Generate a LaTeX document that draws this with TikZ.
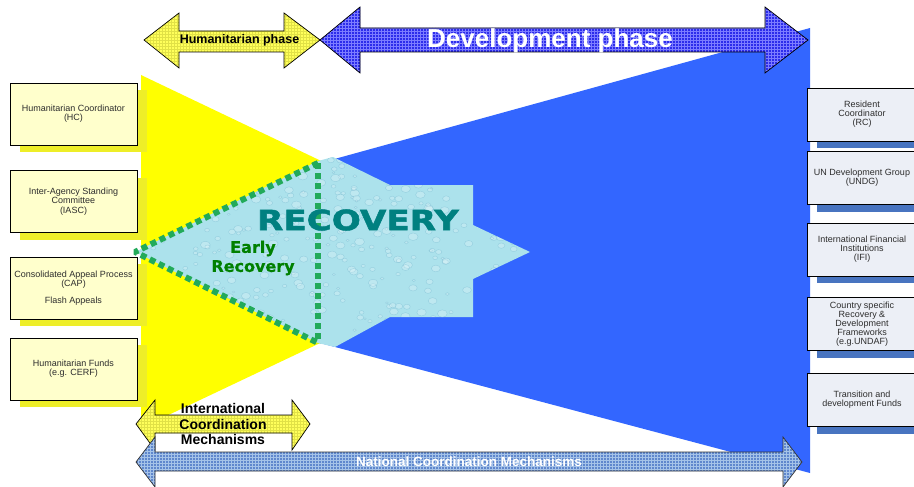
\documentclass[tikz,border=0pt]{standalone}
\usepackage{fontspec}
\setmainfont{Liberation Sans}
\newfontfamily\verafont[FakeBold=0.6]{DejaVu Sans}
\newfontfamily\heavyfont[FakeBold=1.6]{DejaVu Sans Bold}
\usetikzlibrary{patterns,shadows}

\definecolor{funnelyellow}{RGB}{255,255,0}
\definecolor{funnelblue}{RGB}{51,102,255}
\definecolor{recfill}{RGB}{172,226,236}
\definecolor{recdrop}{RGB}{110,180,205}
\definecolor{dotgreen}{RGB}{34,170,90}
\definecolor{recteal}{RGB}{0,128,128}
\definecolor{ergreen}{RGB}{0,128,0}
\definecolor{hboxfill}{RGB}{255,255,204}
\definecolor{hshadow}{RGB}{238,238,40}
\definecolor{dboxfill}{RGB}{236,239,246}
\definecolor{dshadow}{RGB}{72,116,192}
\definecolor{boxtext}{RGB}{45,45,45}
\definecolor{harrfill}{RGB}{255,255,90}
\definecolor{harrgrid}{RGB}{225,225,70}
\definecolor{darrfill}{RGB}{45,45,235}
\definecolor{darrgrid}{RGB}{125,125,255}
\definecolor{narrfill}{RGB}{95,135,205}
\definecolor{narrgrid}{RGB}{165,195,232}

\tikzset{
  hbox/.style={draw=black,fill=hboxfill,minimum width=127pt,minimum height=62pt,
    inner sep=1pt,align=center,text=boxtext,font=\fontsize{9}{9.2}\selectfont,
    drop shadow={shadow xshift=10pt,shadow yshift=-7pt,fill=hshadow,opacity=1}},
  dbox/.style={draw=black,fill=dboxfill,minimum width=110pt,minimum height=53pt,
    inner sep=1pt,align=center,text=boxtext,font=\fontsize{9}{9}\selectfont,
    drop shadow={shadow xshift=10pt,shadow yshift=-7pt,fill=dshadow,opacity=1}},
  harrow/.style={draw=black,line width=0.7pt,preaction={fill=harrfill},pattern=grid,pattern color=harrgrid},
  darrow/.style={draw=black,line width=0.7pt,preaction={fill=darrfill},pattern=grid,pattern color=darrgrid},
  narrow/.style={draw=black!80,line width=0.7pt,preaction={fill=narrfill},pattern=grid,pattern color=narrgrid},
  dotline/.style={dotgreen,line width=6pt,dash pattern=on 6pt off 4pt,line join=bevel},
  droplet/.style={fill=white,fill opacity=0.22,draw=recdrop,draw opacity=0.45,line width=0.4pt}
}

\begin{document}
\begin{tikzpicture}[x=1pt,y=-1pt]
\useasboundingbox (0,0) rectangle (914,487);

% funnels
\fill[funnelyellow] (141,75) -- (512,252) -- (141,428) -- cycle;
\fill[funnelblue] (320,163) -- (810,28) -- (810,473) -- (320,343) -- cycle;

% recovery star
\fill[recfill] (135,252) -- (318,161) -- (333,157) -- (390,185) -- (473,185) -- (473,225)
  -- (530,252) -- (473,279) -- (473,317) -- (390,317) -- (335,347) -- (318,343) -- cycle;
\begin{scope}
\clip (135,252) -- (318,161) -- (333,157) -- (390,185) -- (473,185) -- (473,225)
  -- (530,252) -- (473,279) -- (473,317) -- (390,317) -- (335,347) -- (318,343) -- cycle;
\pgfmathsetseed{11}
\foreach \k in {1,...,420}{
  \pgfmathsetmacro{\dx}{135+400*rnd}
  \pgfmathsetmacro{\dy}{155+195*rnd}
  \pgfmathsetmacro{\dr}{1.2+3.8*rnd}
  \path[droplet] (\dx,\dy) ellipse[x radius=\dr,y radius=0.75*\dr];
}
\end{scope}

% early recovery border
\draw[dotline] (318,163) -- (135,252) -- (318,343);
\draw[dotline] (318,163) -- (318,343);

\node (rec) [text=recteal,font=\heavyfont\fontsize{28}{30}\selectfont,xscale=1.22] at (358,220) {RECOVERY};
\node (erec) [text=ergreen,align=center,font=\verafont\bfseries\fontsize{16}{19}\selectfont] at (253,258) {Early\\Recovery};

% humanitarian side
\node (hc) [hbox] at (73.5,114) {Humanitarian Coordinator\\(HC)};
\node (iasc) [hbox] at (73.5,201.5) {Inter-Agency Standing\\Committee\\(IASC)};
\node (cap) [hbox] at (73.5,288) {Consolidated Appeal Process\\(CAP)\\[8pt]Flash Appeals};
\node (cerf) [hbox] at (73.5,369) {Humanitarian Funds\\(e.g. CERF)};

% development side
\node (rc) [dbox] at (862,114.5) {Resident\\Coordinator\\(RC)};
\node (undg) [dbox] at (862,178) {UN Development Group\\(UNDG)};
\node (ifi) [dbox] at (862,249.5) {International Financial\\Institutions\\(IFI)};
\node (undaf) [dbox] at (862,324) {Country specific\\Recovery \&\\Development\\Frameworks\\(e.g.UNDAF)};
\node (tdf) [dbox] at (862,400) {Transition and\\development Funds};

% phases
\draw[harrow] (144,40) -- (179,13) -- (179,31) -- (284,31) -- (284,13) -- (320,40)
  -- (284,68) -- (284,52) -- (179,52) -- (179,68) -- cycle;
\draw[darrow] (320,40) -- (360,7) -- (360,28) -- (765,28) -- (765,7) -- (808,40)
  -- (765,73) -- (765,52) -- (360,52) -- (360,73) -- cycle;
\node (hphase) [font=\bfseries\fontsize{12.5}{14}\selectfont] at (239.5,40.5) {Humanitarian phase};
\node (dphase) [text=white,font=\bfseries\fontsize{26}{28}\selectfont] at (550,41) {Development phase};

% coordination mechanisms
\draw[harrow] (136,424) -- (155,400) -- (155,415) -- (292,415) -- (292,400) -- (310,424)
  -- (292,450) -- (292,433) -- (155,433) -- (155,450) -- cycle;
\draw[narrow] (136,462) -- (155,437) -- (155,452) -- (783,452) -- (783,437) -- (802,462)
  -- (783,487) -- (783,471) -- (155,471) -- (155,487) -- cycle;
\node (icm) [align=center,font=\bfseries\fontsize{14}{15.5}\selectfont] at (223,424) {International\\Coordination\\Mechanisms};
\node (ncm) [text=white,font=\bfseries\fontsize{13.5}{15}\selectfont] at (469,461.5) {National Coordination Mechanisms};

\end{tikzpicture}
\end{document}
